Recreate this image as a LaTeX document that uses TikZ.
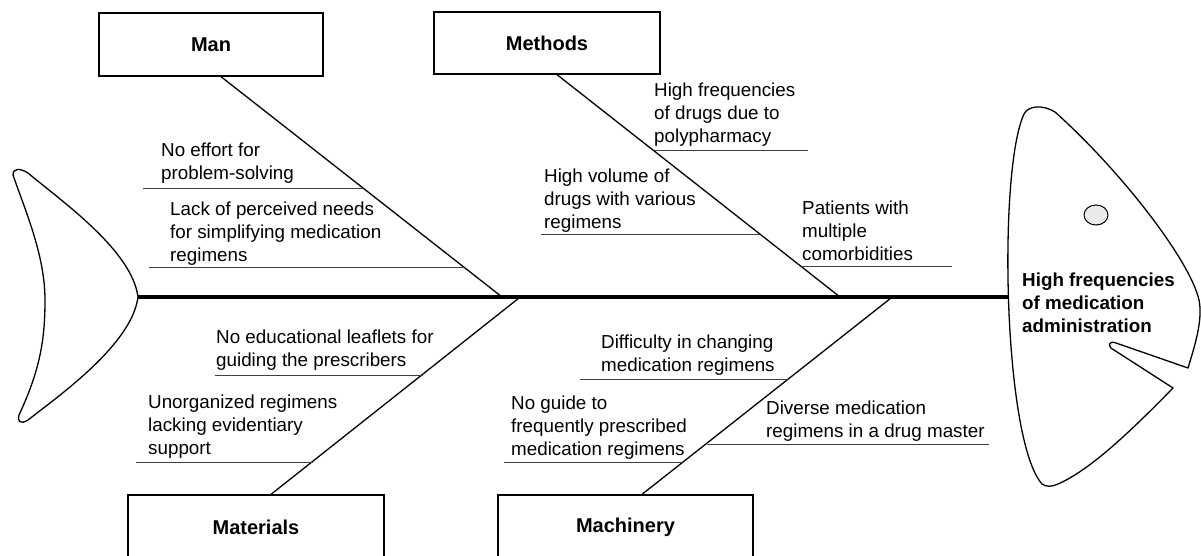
\documentclass[tikz,border=0pt]{standalone}
\usepackage{fontspec}
\setmainfont{Liberation Sans}
\usetikzlibrary{calc}
\tikzset{
  catbox/.style={draw, line width=1.3pt, minimum width=#1, inner sep=0pt, font=\fontsize{20}{24}\selectfont\bfseries},
  cause/.style={anchor=base west, align=left, inner sep=0pt, font=\fontsize{18.8}{23}\selectfont},
  effecttext/.style={anchor=base west, align=left, inner sep=0pt, font=\fontsize{18.8}{23}\selectfont\bfseries},
  bone/.style={line width=1.3pt, line cap=round},
  uline/.style={line width=0.9pt, black!75},
  spine/.style={line width=3.5pt},
  outline/.style={line width=1.3pt, line join=round},
}
\begin{document}
\begin{tikzpicture}[x=1pt,y=-1pt]
\useasboundingbox (0,0) rectangle (1201,556);
\fill[white] (0,0) rectangle (1201,556);

% category boxes
\node[catbox=224pt, minimum height=63pt] (man) at (211,44.5) {Man};
\node[catbox=226pt, minimum height=62pt] (methods) at (547,43) {Methods};
\node[catbox=256pt, minimum height=64pt] (materials) at (256,527) {Materials};
\node[catbox=255pt, minimum height=64pt] (machinery) at (625.5,527) {Machinery};

% tail
\draw[outline] (13,175) .. controls (13,168) and (20,168) .. (28,173)
  .. controls (60,200) and (132,250) .. (138,297)
  .. controls (132,344) and (60,395) .. (28,420)
  .. controls (20,425) and (17,421) .. (19,415)
  .. controls (40,370) and (45,340) .. (45,300)
  .. controls (45,255) and (25,210) .. cycle;
\coordinate (tailtip) at (138,297);

% head
\draw[outline] (1042,484) .. controls (1003,440) and (998,170) .. (1024,114)
  .. controls (1028,106) and (1042,104) .. (1055,112)
  .. controls (1120,170) and (1190,260) .. (1199,300)
  .. controls (1203,320) and (1195,345) .. (1188,368)
  -- (1116,343) .. controls (1108,340) and (1107,347) .. (1114,350)
  -- (1173,388)
  .. controls (1130,432) and (1090,470) .. (1058,484)
  .. controls (1052,487) and (1046,487) .. cycle;
\coordinate (headleft) at (1008,297);
\draw[line width=1pt, fill=black!8] (1096,215) ellipse [x radius=12, y radius=10];
\node[effecttext] (effect) at (1022,332) {High frequencies\\of medication\\administration};

% spine
\draw[spine] (tailtip) -- (headleft);

% bones
\coordinate (manBot) at (502,297);
\coordinate (metBot) at (840,297);
\coordinate (matTop) at (519,298);
\coordinate (macTop) at (891,298);
\draw[bone] ($(man.south)+(10,0)$) -- (manBot);
\draw[bone] ($(methods.south)+(10,0)$) -- (metBot);
\draw[bone] (matTop) -- ($(materials.north)+(15,0)$);
\draw[bone] (macTop) -- ($(machinery.north)+(16.5,0)$);

% underlines
\coordinate (u1a) at (143,188); \coordinate (u1b) at (363,188);
\coordinate (u2a) at (149,267); \coordinate (u2b) at (464,267);
\coordinate (u3a) at (654,150); \coordinate (u3b) at (808,150);
\coordinate (u4a) at (541,234); \coordinate (u4b) at (760,234);
\coordinate (u5a) at (801,266); \coordinate (u5b) at (952,266);
\coordinate (u6a) at (215,375); \coordinate (u6b) at (423,375);
\coordinate (u7a) at (136,462); \coordinate (u7b) at (313,462);
\coordinate (u8a) at (580,379); \coordinate (u8b) at (789,379);
\coordinate (u9a) at (504,462); \coordinate (u9b) at (684,462);
\coordinate (u10a) at (707,444); \coordinate (u10b) at (989,444);
\foreach \i in {1,...,10} { \draw[uline] (u\i a) -- (u\i b); }

% causes (anchor = baseline of last line)
\node[cause] (c1) at (161,179) {No effort for\\problem-solving};
\node[cause] (c2) at (170,261) {Lack of perceived needs\\for simplifying medication\\regimens};
\node[cause] (c3) at (654,143) {High frequencies\\of drugs due to\\polypharmacy};
\node[cause] (c4) at (544,228) {High volume of\\drugs with various\\regimens};
\node[cause] (c5) at (802,260) {Patients with\\multiple\\comorbidities};
\node[cause] (c6) at (216,366) {No educational leaflets for\\guiding the prescribers};
\node[cause] (c7) at (148,454) {Unorganized regimens\\lacking evidentiary\\support};
\node[cause] (c8) at (601,371) {Difficulty in changing\\medication regimens};
\node[cause] (c9) at (511,455) {No guide to\\frequently prescribed\\medication regimens};
\node[cause] (c10) at (766,437) {Diverse medication\\regimens in a drug master};
\end{tikzpicture}
\end{document}
